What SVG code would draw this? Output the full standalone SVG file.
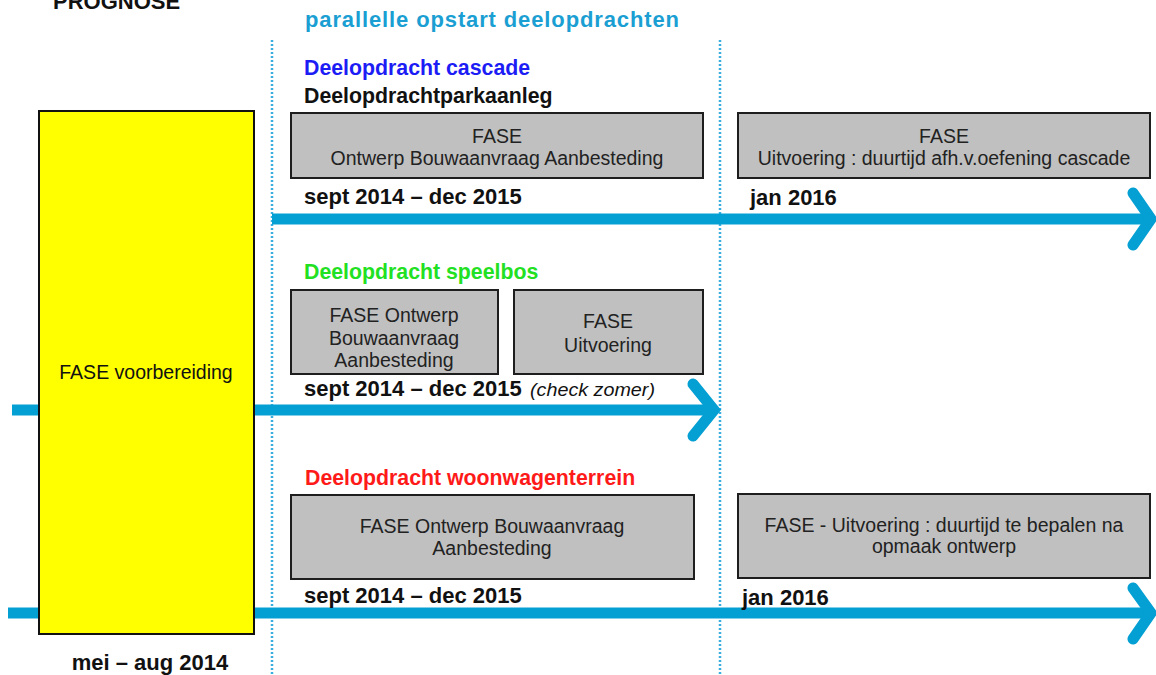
<svg xmlns="http://www.w3.org/2000/svg" width="1156" height="675" viewBox="0 0 1156 675">
<style>
text{font-family:"Liberation Sans",Arial,sans-serif}
.title{font-size:21.3px;font-weight:bold}
.date{font-size:22px;font-weight:bold;fill:#111}
.box{fill:#c0c0c0;stroke:#1e1e1e;stroke-width:2}
.bt{font-size:19.5px;fill:#222;text-anchor:middle}
.arrow{fill:none;stroke:#049fd3;stroke-width:11}
.chev{fill:none;stroke:#049fd3;stroke-width:11;stroke-linecap:round;stroke-linejoin:miter}
.sep{stroke:#3aaee0;stroke-width:2.5;stroke-dasharray:2 2}
</style>
<rect width="1156" height="675" fill="#fff"/>
<g id="separators">
<line class="sep" x1="272" y1="40" x2="272" y2="675"/>
<line class="sep" x1="720" y1="40" x2="720" y2="675"/>
</g>
<g id="connectors">
<line class="arrow" x1="272" y1="219" x2="1150" y2="219"/>
<polyline class="chev" points="1133,193 1151,219 1133,245"/>
<line class="arrow" x1="12" y1="410" x2="715" y2="410"/>
<polyline class="chev" points="693,384 714,410 693,436"/>
<line class="arrow" x1="8" y1="613" x2="1150" y2="613"/>
<polyline class="chev" points="1133,588 1151,613 1133,639"/>
</g>
<g id="headers">
<text x="53" y="9" font-size="22" font-weight="bold" fill="#111">PROGNOSE</text>
<text x="305" y="27" font-size="22" font-weight="bold" fill="#1b9fd3" textLength="374" lengthAdjust="spacing">parallelle opstart deelopdrachten</text>
</g>
<g id="voorbereiding">
<rect x="39" y="111" width="215" height="523" fill="#ffff00" stroke="#111" stroke-width="2"/>
<text class="bt" x="146" y="379" style="fill:#111">FASE voorbereiding</text>
<text class="date" x="150" y="670" text-anchor="middle">mei – aug 2014</text>
</g>
<g id="cascade">
<text class="title" x="304" y="75" fill="#1c1cf5">Deelopdracht cascade</text>
<text class="title" x="304" y="103" fill="#111">Deelopdrachtparkaanleg</text>
<text class="date" x="304" y="204">sept 2014 – dec 2015</text>
<text class="date" x="750" y="205">jan 2016</text>
</g>
<g id="cascade-ontwerp">
<rect class="box" x="291" y="113" width="412" height="65"/>
<text class="bt" x="497" y="143">FASE</text>
<text class="bt" x="497" y="165">Ontwerp Bouwaanvraag Aanbesteding</text>
</g>
<g id="cascade-uitvoering">
<rect class="box" x="738" y="113" width="412" height="65"/>
<text class="bt" x="944" y="143">FASE</text>
<text class="bt" x="944" y="165">Uitvoering : duurtijd afh.v.oefening cascade</text>
</g>
<g id="speelbos">
<text class="title" x="304" y="279" fill="#22e022">Deelopdracht speelbos</text>
<text class="date" x="304" y="396">sept 2014 – dec 2015</text>
<text x="530" y="396" font-size="18" font-style="italic" fill="#111" textLength="125" lengthAdjust="spacingAndGlyphs">(check zomer)</text>
</g>
<g id="speelbos-ontwerp">
<rect class="box" x="291" y="290" width="207" height="84"/>
<text class="bt" x="394" y="322">FASE Ontwerp</text>
<text class="bt" x="394" y="345">Bouwaanvraag</text>
<text class="bt" x="394" y="367">Aanbesteding</text>
</g>
<g id="speelbos-uitvoering">
<rect class="box" x="514" y="290" width="189" height="84"/>
<text class="bt" x="608" y="328">FASE</text>
<text class="bt" x="608" y="352">Uitvoering</text>
</g>
<g id="woonwagenterrein">
<text class="title" x="305" y="485" fill="#ff1a1a">Deelopdracht woonwagenterrein</text>
<text class="date" x="304" y="603">sept 2014 – dec 2015</text>
<text class="date" x="742" y="605">jan 2016</text>
</g>
<g id="woonwagen-ontwerp">
<rect class="box" x="291" y="495" width="403" height="84"/>
<text class="bt" x="492" y="533">FASE Ontwerp Bouwaanvraag</text>
<text class="bt" x="492" y="555">Aanbesteding</text>
</g>
<g id="woonwagen-uitvoering">
<rect class="box" x="738" y="494" width="412" height="84"/>
<text class="bt" x="944" y="532">FASE - Uitvoering : duurtijd te bepalen na</text>
<text class="bt" x="944" y="553">opmaak ontwerp</text>
</g>
</svg>
